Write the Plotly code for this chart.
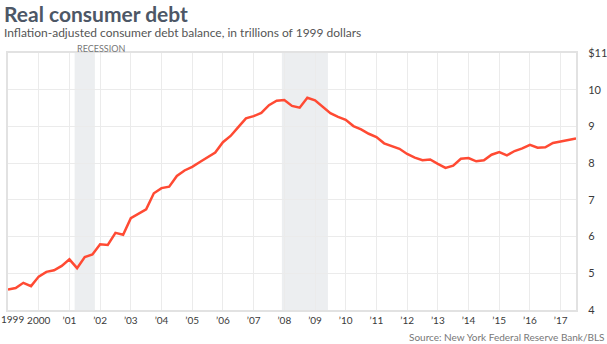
import plotly.graph_objects as go
import pandas as pd

# Quarterly real consumer debt balance, trillions of 1999 dollars (1999Q1 - 2017Q3)
start_quarter = "1999Q1"
debt = [
    4.56, 4.60, 4.74, 4.65, 4.91, 5.04, 5.08, 5.20, 5.38, 5.14,
    5.44, 5.51, 5.79, 5.77, 6.10, 6.05, 6.50, 6.63, 6.74, 7.18,
    7.32, 7.36, 7.65, 7.80, 7.90, 8.03, 8.17, 8.29, 8.57, 8.74,
    8.98, 9.22, 9.28, 9.37, 9.58, 9.70, 9.72, 9.56, 9.51, 9.78,
    9.71, 9.53, 9.36, 9.26, 9.18, 9.01, 8.92, 8.80, 8.71, 8.54,
    8.46, 8.39, 8.25, 8.15, 8.08, 8.10, 7.98, 7.87, 7.93, 8.12,
    8.14, 8.05, 8.08, 8.23, 8.30, 8.21, 8.33, 8.40, 8.50, 8.42,
    8.43, 8.55, 8.59, 8.62, 8.67,
]

# Recession periods (decimal years)
recessions = [(2001.17, 2001.83), (2007.92, 2009.42)]

tick_years = list(range(1999, 2018))
tick_labels = ["1999", "2000"] + ["\u2019%02d" % (y % 100) for y in range(2001, 2018)]
y_ticks = [4, 5, 6, 7, 8, 9, 10, 11]
y_labels = ["4", "5", "6", "7", "8", "9", "10", "$11"]

quarters = pd.period_range(start_quarter, periods=len(debt), freq="Q")
x = [q.year + (q.quarter - 1) / 4 for q in quarters]

fig = go.Figure()
fig.add_trace(go.Scatter(
    x=x, y=debt, mode="lines",
    line=dict(color="#ff4a33", width=2.5),
    hoverinfo="skip",
))

for x0, x1 in recessions:
    fig.add_shape(type="rect", xref="x", yref="paper", x0=x0, x1=x1, y0=0, y1=1,
                  fillcolor="#eceef0", line=dict(width=0), layer="below")

font_family = "Lato, Open Sans, sans-serif"
x_tick_font = dict(size=10, color="#3a3a3a", family=font_family)
y_tick_font = dict(size=11, color="#3a3a3a", family=font_family)

# the first year label sits flush with the page edge, so it is placed
# as a left-anchored annotation instead of a centred tick label
axis_labels = [""] + tick_labels[1:]

fig.update_layout(
    width=607, height=344,
    margin=dict(l=8, r=31, t=53, b=34, autoexpand=False),
    paper_bgcolor="white", plot_bgcolor="white",
    showlegend=False,
    font=dict(family=font_family, color="#333333", size=11),
    xaxis=dict(
        range=[1999, 2017.5], tickvals=tick_years, ticktext=axis_labels,
        showgrid=True, gridcolor="#ebebeb", gridwidth=1,
        zeroline=False, showline=True, mirror=True,
        linecolor="#e2e2e2", linewidth=2,
        ticks="", tickangle=0, automargin=False,
        tickfont=x_tick_font,
        fixedrange=True,
    ),
    yaxis=dict(
        range=[4, 11], side="right", tickvals=y_ticks, ticktext=y_labels,
        showgrid=True, gridcolor="#ebebeb", gridwidth=1,
        zeroline=False, showline=True, mirror=True,
        linecolor="#e2e2e2", linewidth=2,
        ticks="", ticklabelstandoff=8, automargin=False,
        tickfont=y_tick_font,
        fixedrange=True,
    ),
    annotations=[
        dict(text="<b>Real consumer debt</b>", xref="paper", yref="paper",
             x=-0.01, y=1.152, xanchor="left", yanchor="middle", showarrow=False,
             font=dict(size=21, color="#4d5766", family=font_family)),
        dict(text="Inflation-adjusted consumer debt balance, in trillions of 1999 dollars",
             xref="paper", yref="paper", x=-0.01, y=1.080, xanchor="left",
             yanchor="middle", showarrow=False,
             font=dict(size=12, color="#555555", family=font_family)),
        dict(text="RECESSION", xref="x", yref="paper", x=recessions[0][0], y=1.016,
             xanchor="left", yanchor="middle", showarrow=False,
             font=dict(size=9, color="#777777", family=font_family)),
        dict(text=tick_labels[0], xref="x", yref="paper", x=tick_years[0], y=0,
             xanchor="left", yanchor="top", xshift=-8, yshift=-2, showarrow=False,
             borderpad=0, font=x_tick_font),
        dict(text="Source: New York Federal Reserve Bank/BLS", xref="paper", yref="paper",
             x=1.053, y=-0.105, xanchor="right", yanchor="middle", showarrow=False,
             font=dict(size=10, color="#777777", family=font_family)),
    ],
)

fig.write_html("out.html")
